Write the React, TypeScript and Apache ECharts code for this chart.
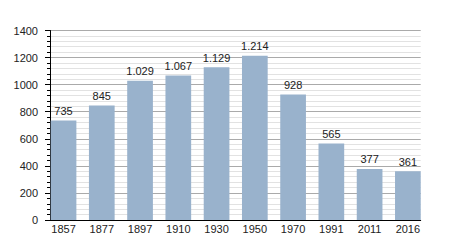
import React, { useEffect, useRef } from "react";
import * as echarts from "echarts";

const categories = ["1857", "1877", "1897", "1910", "1930", "1950", "1970", "1991", "2011", "2016"];
const population = [735, 845, 1029, 1067, 1129, 1214, 928, 565, 377, 361];
const yMin = 0;
const yMax = 1400;
const yInterval = 200;

const fmt = (v: number) => String(v).replace(/\B(?=(\d{3})+(?!\d))/g, ".");

export default function App() {
  const ref = useRef<HTMLDivElement>(null);
  useEffect(() => {
    if (!ref.current) return;
    const chart = echarts.init(ref.current, null, { renderer: "svg" });
    const font = "Liberation Sans, Arial, sans-serif";
    chart.setOption({
      animation: false,
      backgroundColor: "#ffffff",
      grid: [
        { left: 50, right: 29.3, top: 30.5, bottom: 30 },
        { left: 44.4, right: 23, top: 30.5, bottom: 30 },
      ],
      xAxis: [
        {
          type: "category",
          gridIndex: 0,
          data: categories,
          axisLine: { show: true, lineStyle: { color: "#000", width: 1 } },
          axisTick: { show: false },
          axisLabel: { show: false },
          splitLine: { show: false },
        },
        {
          type: "category",
          gridIndex: 1,
          data: categories,
          axisLine: { show: false },
          axisTick: { show: false },
          axisLabel: { show: true, margin: 3, fontSize: 11, color: "#222", fontFamily: font },
          splitLine: { show: false },
        },
      ],
      yAxis: [
        {
          type: "value",
          gridIndex: 0,
          min: yMin,
          max: yMax,
          interval: yInterval,
          axisLine: { show: true, lineStyle: { color: "#000", width: 1 } },
          axisTick: { show: true, length: 5, lineStyle: { color: "#000" } },
          minorTick: { show: true, splitNumber: 5, length: 3, lineStyle: { color: "#000" } },
          axisLabel: {
            margin: 12,
            fontSize: 11,
            color: "#222",
            fontFamily: font,
            formatter: (v: number) => String(v),
          },
          splitLine: { show: true, lineStyle: { color: "#aaaaaa", width: 1 } },
          minorSplitLine: { show: true, lineStyle: { color: "#e2e2e2", width: 1 } },
        },
        {
          type: "value",
          gridIndex: 1,
          min: yMin,
          max: yMax,
          interval: yInterval,
          show: false,
          splitLine: { show: false },
        },
      ],
      series: [
        {
          type: "bar",
          xAxisIndex: 1,
          yAxisIndex: 1,
          data: population,
          barWidth: 25.7,
          itemStyle: { color: "#99b2cc" },
          label: {
            show: true,
            position: "top",
            distance: 4,
            fontSize: 11,
            color: "#222",
            fontFamily: font,
            formatter: (p: any) => fmt(p.value),
          },
        },
      ],
    });
    return () => chart.dispose();
  }, []);
  return (
    <div
      ref={ref}
      style={{ position: "fixed", left: 0, top: 0, width: 450, height: 250, background: "#fff" }}
    />
  );
}
